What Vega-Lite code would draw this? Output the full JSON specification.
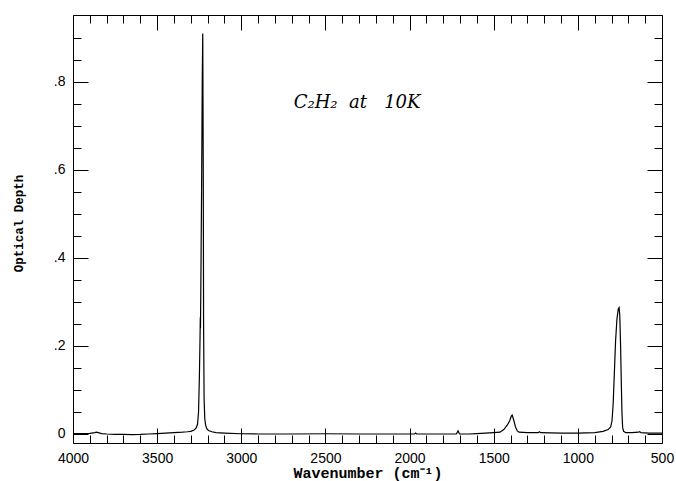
{
  "$schema": "https://vega.github.io/schema/vega-lite/v6.json",
  "width": 589,
  "height": 428,
  "autosize": "none",
  "padding": {"left": 73, "top": 15, "right": 14, "bottom": 38},
  "background": "white",
  "config": {
    "view": {"stroke": null},
    "axis": {
      "domainColor": "#000000",
      "domainWidth": 1,
      "tickColor": "#000000",
      "tickWidth": 1,
      "grid": false,
      "labelFont": "Liberation Sans",
      "labelFontSize": 14,
      "labelColor": "#000000",
      "titleFont": "Liberation Mono",
      "titleFontWeight": "bold",
      "titleColor": "#000000"
    }
  },
  "resolve": {"axis": {"x": "independent", "y": "independent"}},
  "layer": [
    {
      "data": {"values": [
        {"wn": 4000, "od": 0.001}, {"wn": 3950, "od": 0.001}, {"wn": 3900, "od": 0.0015},
        {"wn": 3870, "od": 0.003}, {"wn": 3860, "od": 0.004}, {"wn": 3850, "od": 0.003},
        {"wn": 3830, "od": 0.001}, {"wn": 3800, "od": 0.0}, {"wn": 3750, "od": -0.001},
        {"wn": 3700, "od": -0.001}, {"wn": 3650, "od": -0.0015}, {"wn": 3600, "od": -0.001},
        {"wn": 3550, "od": 0.0}, {"wn": 3500, "od": 0.001}, {"wn": 3450, "od": 0.002},
        {"wn": 3400, "od": 0.003}, {"wn": 3350, "od": 0.004}, {"wn": 3320, "od": 0.005},
        {"wn": 3300, "od": 0.006}, {"wn": 3280, "od": 0.009}, {"wn": 3268, "od": 0.014},
        {"wn": 3260, "od": 0.022}, {"wn": 3254, "od": 0.05}, {"wn": 3249, "od": 0.13},
        {"wn": 3245, "od": 0.22}, {"wn": 3243.5, "od": 0.265}, {"wn": 3242.5, "od": 0.24},
        {"wn": 3240, "od": 0.35}, {"wn": 3236, "od": 0.55}, {"wn": 3232, "od": 0.8},
        {"wn": 3229, "od": 0.91}, {"wn": 3226, "od": 0.6}, {"wn": 3224, "od": 0.25},
        {"wn": 3221, "od": 0.08}, {"wn": 3217, "od": 0.035}, {"wn": 3212, "od": 0.02},
        {"wn": 3205, "od": 0.012}, {"wn": 3195, "od": 0.008}, {"wn": 3175, "od": 0.005},
        {"wn": 3150, "od": 0.003}, {"wn": 3100, "od": 0.002}, {"wn": 3000, "od": 0.0005},
        {"wn": 2900, "od": 0.0}, {"wn": 2700, "od": 0.0}, {"wn": 2500, "od": 0.0005},
        {"wn": 2300, "od": 0.0}, {"wn": 2100, "od": 0.0}, {"wn": 1970, "od": 0.0},
        {"wn": 1964, "od": 0.002}, {"wn": 1958, "od": 0.0}, {"wn": 1800, "od": 0.0},
        {"wn": 1722, "od": 0.0}, {"wn": 1712, "od": 0.007}, {"wn": 1703, "od": 0.0},
        {"wn": 1650, "od": 0.0}, {"wn": 1600, "od": 0.001}, {"wn": 1550, "od": 0.002},
        {"wn": 1500, "od": 0.003}, {"wn": 1463, "od": 0.004}, {"wn": 1440, "od": 0.01},
        {"wn": 1420, "od": 0.02}, {"wn": 1405, "od": 0.03}, {"wn": 1395, "od": 0.041},
        {"wn": 1390, "od": 0.043}, {"wn": 1380, "od": 0.03}, {"wn": 1370, "od": 0.015},
        {"wn": 1360, "od": 0.007}, {"wn": 1350, "od": 0.004}, {"wn": 1300, "od": 0.003},
        {"wn": 1236, "od": 0.003}, {"wn": 1228, "od": 0.005}, {"wn": 1220, "od": 0.003},
        {"wn": 1100, "od": 0.002}, {"wn": 1000, "od": 0.002}, {"wn": 900, "od": 0.003},
        {"wn": 850, "od": 0.006}, {"wn": 820, "od": 0.01}, {"wn": 805, "od": 0.016},
        {"wn": 797, "od": 0.03}, {"wn": 790, "od": 0.07}, {"wn": 783, "od": 0.14},
        {"wn": 776, "od": 0.21}, {"wn": 768, "od": 0.26}, {"wn": 760, "od": 0.284},
        {"wn": 755, "od": 0.287}, {"wn": 751, "od": 0.27}, {"wn": 746, "od": 0.2},
        {"wn": 742, "od": 0.12}, {"wn": 738, "od": 0.05}, {"wn": 734, "od": 0.015},
        {"wn": 728, "od": 0.006}, {"wn": 715, "od": 0.003}, {"wn": 680, "od": 0.003},
        {"wn": 640, "od": 0.004}, {"wn": 632, "od": 0.005}, {"wn": 625, "od": 0.003},
        {"wn": 580, "od": 0.002}, {"wn": 500, "od": 0.002}
      ]},
      "mark": {"type": "line", "color": "#000000", "strokeWidth": 1.2, "clip": true},
      "encoding": {
        "x": {
          "field": "wn", "type": "quantitative",
          "scale": {"domain": [4000, 500], "nice": false, "zero": false},
          "axis": {
            "orient": "bottom",
            "title": "Wavenumber (cm\u207b\u00b9)",
            "titleFontSize": 15,
            "titleBaseline": "alphabetic",
            "titleY": 34,
            "values": [4000,3900,3800,3700,3600,3500,3400,3300,3200,3100,3000,2900,2800,2700,2600,2500,2400,2300,2200,2100,2000,1900,1800,1700,1600,1500,1400,1300,1200,1100,1000,900,800,700,600,500],
            "labelExpr": "datum.value % 500 === 0 ? format(datum.value, 'd') : ''",
            "labelOverlap": false,
            "labelFlush": false,
            "tickSize": {"condition": {"test": "datum.value % 500 === 0", "value": -15}, "value": -8},
            "labelPadding": 23
          }
        },
        "y": {
          "field": "od", "type": "quantitative",
          "scale": {"domain": [-0.0205, 0.952], "nice": false, "zero": false},
          "axis": {
            "orient": "left",
            "title": "Optical Depth",
            "titleFontSize": 12.5,
            "titleBaseline": "middle",
            "titleX": -55,
            "titleY": 208,
            "values": [0,0.05,0.1,0.15,0.2,0.25,0.3,0.35,0.4,0.45,0.5,0.55,0.6,0.65,0.7,0.75,0.8,0.85,0.9],
            "labelExpr": "abs(datum.value*5 - round(datum.value*5)) < 0.000001 ? (datum.value === 0 ? '0' : replace(format(datum.value, '.1f'), '0.', '.')) : ''",
            "labelOverlap": false,
            "labelFlush": false,
            "tickSize": {"condition": {"test": "abs(datum.value*5 - round(datum.value*5)) < 0.000001", "value": -15}, "value": -8},
            "labelPadding": 23
          }
        }
      }
    },
    {
      "data": {"values": [{"wn": 2312, "od": 0.7416, "label": "C\u2082H\u2082\u00a0\u00a0at\u00a0\u00a0\u00a010K"}]},
      "mark": {"type": "text", "font": "DejaVu Serif", "fontStyle": "italic", "fontSize": 18, "align": "center", "baseline": "alphabetic", "color": "#000000"},
      "encoding": {
        "x": {
          "field": "wn", "type": "quantitative",
          "axis": {
            "orient": "top",
            "title": null,
            "labels": false,
            "values": [4000,3900,3800,3700,3600,3500,3400,3300,3200,3100,3000,2900,2800,2700,2600,2500,2400,2300,2200,2100,2000,1900,1800,1700,1600,1500,1400,1300,1200,1100,1000,900,800,700,600,500],
            "tickSize": {"condition": {"test": "datum.value % 500 === 0", "value": -15}, "value": -8}
          }
        },
        "y": {
          "field": "od", "type": "quantitative",
          "axis": {
            "orient": "right",
            "title": null,
            "labels": false,
            "values": [0,0.05,0.1,0.15,0.2,0.25,0.3,0.35,0.4,0.45,0.5,0.55,0.6,0.65,0.7,0.75,0.8,0.85,0.9],
            "tickSize": {"condition": {"test": "abs(datum.value*5 - round(datum.value*5)) < 0.000001", "value": -15}, "value": -8}
          }
        },
        "text": {"field": "label"}
      }
    }
  ]
}
